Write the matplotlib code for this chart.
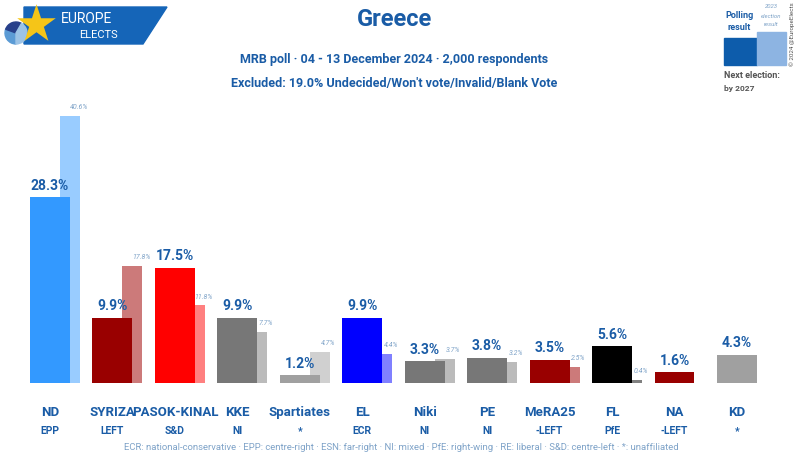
import matplotlib
matplotlib.use("Agg")
import matplotlib.pyplot as plt
from matplotlib.patches import Polygon, Rectangle, Wedge
from matplotlib.transforms import blended_transform_factory

plt.rcParams["font.family"] = ["Roboto", "DejaVu Sans"]

parties = ["ND", "SYRIZA", "PASOK-KINAL", "KKE", "Spartiates", "EL",
           "Niki", "PE", "MeRA25", "FL", "NA", "KD"]
groups = ["EPP", "LEFT", "S&D", "NI", "*", "ECR",
          "NI", "NI", "-LEFT", "PfE", "-LEFT", "*"]
poll = [28.3, 9.9, 17.5, 9.9, 1.2, 9.9, 3.3, 3.8, 3.5, 5.6, 1.6, 4.3]
election = [40.6, 17.8, 11.8, 7.7, 4.7, 4.4, 3.7, 3.2, 2.5, 0.4, None, None]
poll_colors = ["#3399FF", "#990000", "#FF0000", "#777777", "#A0A0A0", "#0000FF",
               "#777777", "#777777", "#990000", "#000000", "#990000", "#A0A0A0"]
elec_colors = ["#99CCFF", "#CC7A7A", "#FF8080", "#BBBBBB", "#D0D0D0", "#8080FF",
               "#BBBBBB", "#BBBBBB", "#CC7A7A", "#808080", None, None]

BLUE = "#1A5CA6"
LIGHT = "#7FA3C8"

W, H = 800, 460
fig = plt.figure(figsize=(8, 4.6), dpi=100)

# bar axes: baseline at y=384 px, 6.57 px per %, groups 62.45 px apart
step = 62.45
ymax = 45
ax = fig.add_axes([0, (H - 384) / H, 1, ymax * 6.57 / H])
ax.set_xlim(-50 / step, (W - 50) / step)
ax.set_ylim(0, ymax)
ax.axis("off")

x = list(range(len(parties)))
for i in x:
    if election[i] is not None:
        ax.bar(i + 0.32, election[i], width=0.32, color=elec_colors[i], zorder=1)
        ax.annotate(f"{election[i]}%", (i + 0.46, election[i]), xytext=(0, 5),
                    textcoords="offset points", ha="center", va="bottom",
                    fontsize=5, style="italic", color=LIGHT)
ax.bar(x, poll, width=0.64, color=poll_colors, zorder=2)
for i in x:
    ax.annotate(f"{poll[i]}%", (i, poll[i]), xytext=(0, 4),
                textcoords="offset points", ha="center", va="bottom",
                fontsize=10, fontweight="bold", color=BLUE)

tr = blended_transform_factory(ax.transData, fig.transFigure)
for i in x:
    ax.text(i, 1 - 413 / H, parties[i], transform=tr, ha="center", va="center",
            fontsize=9.5, fontweight="bold", color=BLUE)
    ax.text(i, 1 - 431 / H, groups[i], transform=tr, ha="center", va="center",
            fontsize=7.5, fontweight="bold", color=BLUE)

# overlay in pixel coordinates for header, logo and legend
ov = fig.add_axes([0, 0, 1, 1], zorder=-1)
ov.set_xlim(0, W)
ov.set_ylim(H, 0)
ov.axis("off")

ov.text(395, 20, "Greece", ha="center", va="center", fontsize=17,
        fontweight="bold", color=BLUE)
ov.text(394, 60, "MRB poll · 04 - 13 December 2024 · 2,000 respondents",
        ha="center", va="center", fontsize=9, fontweight="bold", color=BLUE)
ov.text(394, 84, "Excluded: 19.0% Undecided/Won't vote/Invalid/Blank Vote",
        ha="center", va="center", fontsize=9, fontweight="bold", color=BLUE)
ov.text(401, 448, "ECR: national-conservative · EPP: centre-right · ESN: far-right · "
        "NI: mixed · PfE: right-wing · RE: liberal · S&D: centre-left · *: unaffiliated",
        ha="center", va="center", fontsize=6.8, color=LIGHT)

# logo
ov.add_patch(Polygon([(24, 8), (167, 8), (143, 45), (24, 45)],
                     closed=True, color="#1565B8", zorder=1))
ov.add_patch(Wedge((16, 34), 11, 90, 200, color="#5B9BD5", zorder=2))
ov.add_patch(Wedge((16, 34), 11, 200, 300, color="#27408B", zorder=2))
ov.add_patch(Wedge((16, 34), 11, 300, 450, color="#9CC3E6", zorder=2))
ov.scatter([36], [25], s=850, marker="*", color="#F5C518", zorder=3,
           linewidths=0)
ov.text(87, 19, "EUROPE", ha="center", va="center", fontsize=10,
        color="white", zorder=4)
ov.text(99, 35, "ELECTS", ha="center", va="center", fontsize=8,
        color="white", zorder=4)

# legend box top right
ov.add_patch(Rectangle((724, 39), 33, 27, color="#0D5CAB"))
ov.add_patch(Rectangle((757, 33), 29, 33, color="#8DB4E2"))
ov.text(739, 15, "Polling", ha="center", va="center", fontsize=6.5,
        fontweight="bold", color=BLUE)
ov.text(739, 27, "result", ha="center", va="center", fontsize=6.5,
        fontweight="bold", color=BLUE)
for yy, t in [(7, "2023"), (16, "election"), (25, "result")]:
    ov.text(771, yy, t, ha="center", va="center", fontsize=4.3,
            style="italic", color=LIGHT)
ov.text(724, 75, "Next election:", ha="left", va="center", fontsize=6.5,
        fontweight="bold", color="#555555")
ov.text(724, 89, "by 2027", ha="left", va="center", fontsize=6,
        fontweight="bold", color="#555555")
ov.text(792, 34, "© 2024 @EuropeElects", ha="center", va="center", fontsize=4.5,
        rotation=90, color="#555555")

fig.savefig("out.png", dpi=100)
